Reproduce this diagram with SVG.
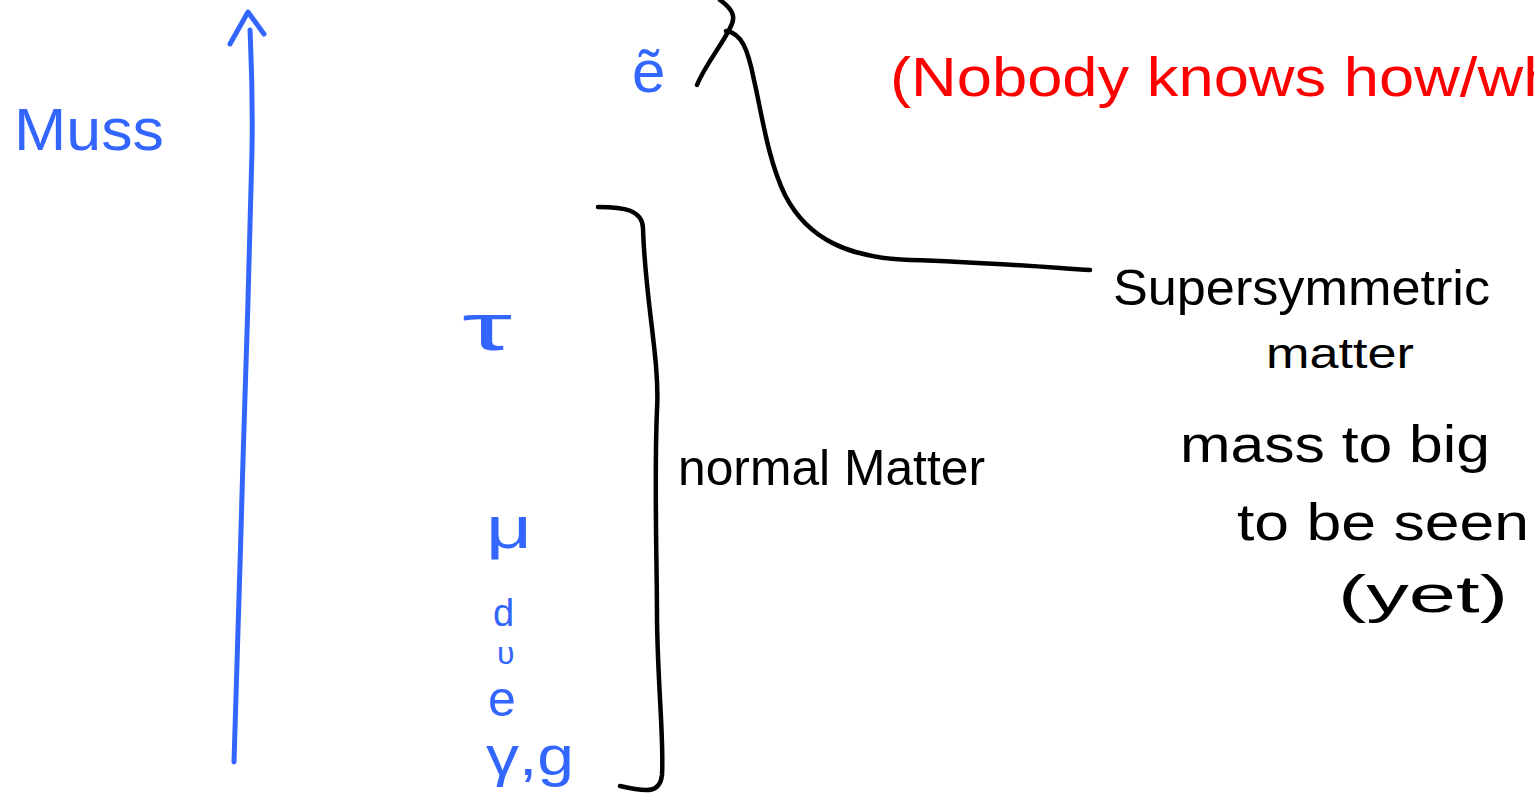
<svg xmlns="http://www.w3.org/2000/svg" width="1534" height="800" viewBox="0 0 1534 800">
<style>
.blue{fill:#3366ff;font-family:"Liberation Sans",sans-serif}
.blk{fill:#000;font-family:"Liberation Sans",sans-serif}
.red{fill:#ff0000;font-family:"Liberation Sans",sans-serif}
.sb{fill:none;stroke:#3366ff;stroke-width:5;stroke-linecap:round;stroke-linejoin:round}
.sk{fill:none;stroke:#000;stroke-width:4.5;stroke-linecap:round;stroke-linejoin:round}
</style>
<rect width="1534" height="800" fill="#fff"/>
<g id="connectors">
<path class="sb" d="M234,762 C238,650 240,560 243,460 C246,360 250,250 252,150 C253,90 251,55 250,30"/>
<path class="sb" d="M230,44 L248,12 L264,34"/>
<path class="sk" d="M598,207 C625,207 642,210 643,228 C645,300 660,360 657,410 C654,480 657,560 657,620 C658,690 664,740 662,775 C660,792 650,793 620,786"/>
<path class="sk" d="M697,85 C705,65 722,45 730,28 C736,18 734,10 720,0"/>
<path class="sk" d="M726,31 C742,33 748,50 754,80 C762,115 768,160 785,195 C808,240 850,258 910,260 C980,262 1030,266 1090,270"/>
</g>
<g id="axis-label"><text class="blue" x="14" y="150" font-size="60" textLength="150" lengthAdjust="spacingAndGlyphs">Muss</text></g>
<g id="tau"><text class="blue" x="462" y="350" font-size="66" textLength="50" lengthAdjust="spacingAndGlyphs">τ</text></g>
<g id="mu"><text class="blue" x="486" y="548" font-size="60" textLength="46" lengthAdjust="spacingAndGlyphs">μ</text></g>
<g id="d"><text class="blue" x="493" y="626" font-size="38">d</text></g>
<g id="u"><text class="blue" x="497" y="664" font-size="32">υ</text></g>
<g id="e"><text class="blue" x="488" y="716" font-size="50">e</text></g>
<g id="gamma-g"><text class="blue" x="486" y="775" font-size="56" textLength="88" lengthAdjust="spacingAndGlyphs">γ,g</text></g>
<g id="selectron"><text class="blue" x="632" y="92" font-size="60">ẽ</text></g>
<g id="normal-matter"><text class="blk" x="678" y="485" font-size="50" textLength="307" lengthAdjust="spacingAndGlyphs">normal Matter</text></g>
<g id="susy-matter">
<text class="blk" x="1113" y="305" font-size="50" textLength="377" lengthAdjust="spacingAndGlyphs">Supersymmetric</text>
<text class="blk" x="1266" y="368" font-size="42" textLength="148" lengthAdjust="spacingAndGlyphs">matter</text>
</g>
<g id="mass-note">
<text class="blk" x="1180" y="462" font-size="52" textLength="310" lengthAdjust="spacingAndGlyphs">mass to big</text>
<text class="blk" x="1237" y="540" font-size="52" textLength="292" lengthAdjust="spacingAndGlyphs">to be seen</text>
<text class="blk" x="1338" y="612" font-size="52" textLength="170" lengthAdjust="spacingAndGlyphs">(yet)</text>
</g>
<g id="red-note"><text class="red" x="890" y="96" font-size="56" textLength="700" lengthAdjust="spacingAndGlyphs">(Nobody knows how/why</text></g>
</svg>
